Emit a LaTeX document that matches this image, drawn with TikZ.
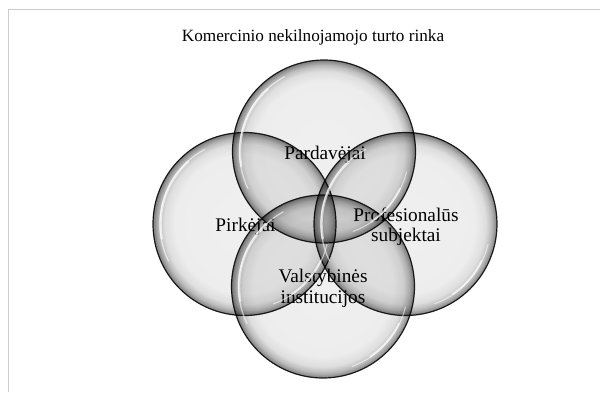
\documentclass[tikz,border=0pt]{standalone}
\usepackage{fontspec}
\setmainfont{Liberation Serif}
\begin{document}
% glassy bubble: light body, grey rim that darkens toward the edge
\pgfdeclareradialshading{bubble}{\pgfpoint{0bp}{0bp}}{%
  color(0bp)=(black!6);
  color(19bp)=(black!7);
  color(21.9bp)=(black!13);
  color(23.5bp)=(black!27);
  color(24.45bp)=(black!42);
  color(25bp)=(black!52);
  color(50bp)=(black!52)}
\begin{tikzpicture}[x=1pt,y=1pt,
  bubble/.style={circle, minimum size=183pt, inner sep=0pt, outer sep=0pt,
    shade, shading=bubble, blend mode=multiply,
    draw=black!85, line width=1.2pt},
  gloss/.style={draw=white, line cap=round, draw opacity=0.6},
  label/.style={font=\fontsize{19.3}{20.7}\selectfont, align=center, inner sep=0pt},
  heading/.style={font=\fontsize{17.2}{20}\selectfont, inner sep=0pt},
  frameline/.style={draw=black!20, line width=1.5pt}]
\useasboundingbox (0,0) rectangle (600,392);

% page frame (left and top edges)
\coordinate (fb) at (8.5,0);
\coordinate (fc) at (8.5,382.5);
\coordinate (fr) at (600,382.5);
\draw[frameline] (fb) -- (fc) -- (fr);

% the four market participants
\node[bubble] (pard) at (324,240.5) {};
\node[bubble] (pirk) at (244.5,168) {};
\node[bubble] (prof) at (405.5,168) {};
\node[bubble] (vals) at (323,105.5) {};

% labels
\node[heading, anchor=base] (ttl) at (313,351) {Komercinio nekilnojamojo turto rinka};
\node[label, anchor=base] (tpard) at (325,233) {Pardavėjai};
\node[label, anchor=base] (tpirk) at (245.5,160.3) {Pirkėjai};
\node[label] (tprof) at (406,165.2) {Profesionalūs\\subjektai};
\node[label] (tvals) at (323,103.5) {Valstybinės\\institucijos};

% glossy highlights
\foreach \n in {pard,pirk,prof,vals} {
  \draw[gloss, line width=1.2pt] ([shift={(118:84.5pt)}]\n.center)
    arc[start angle=118, end angle=206, radius=84.5pt];
  \draw[gloss, line width=2.4pt] ([shift={(132:84pt)}]\n.center)
    arc[start angle=132, end angle=190, radius=84pt];
  \draw[gloss, line width=1pt] ([shift={(-14:85pt)}]\n.center)
    arc[start angle=-14, end angle=-70, radius=85pt];
  \draw[gloss, line width=2pt] ([shift={(-26:84.5pt)}]\n.center)
    arc[start angle=-26, end angle=-56, radius=84.5pt];
}
\end{tikzpicture}
\end{document}
